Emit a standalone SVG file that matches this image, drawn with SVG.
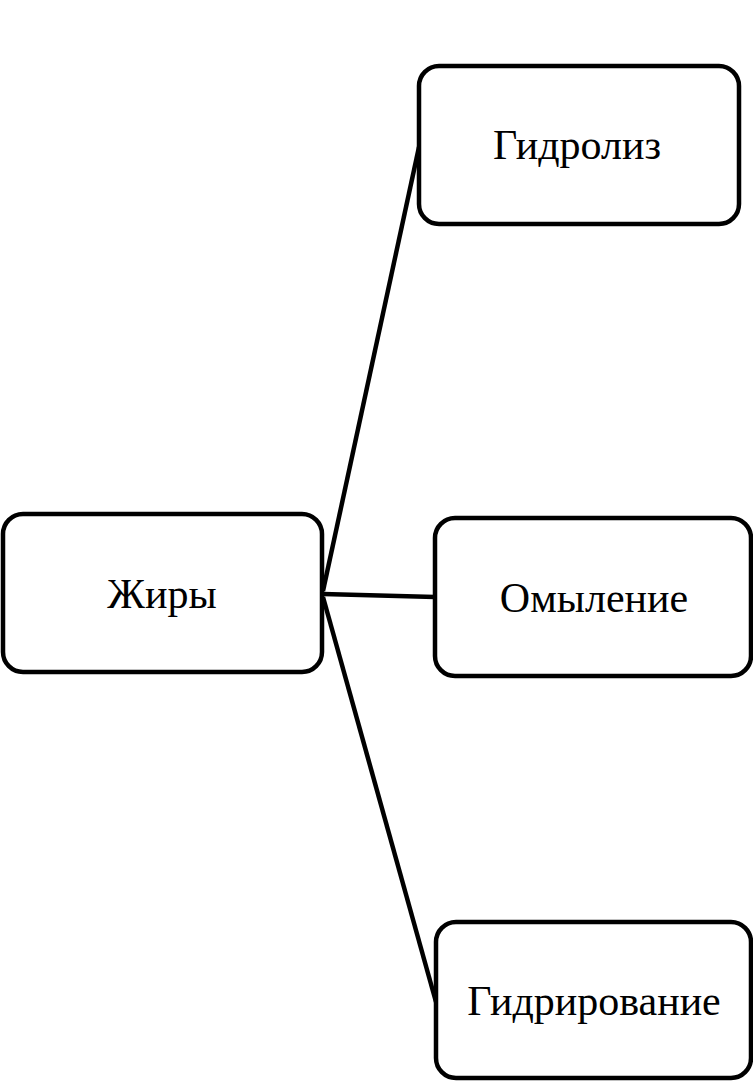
<svg xmlns="http://www.w3.org/2000/svg" width="753" height="1081" viewBox="0 0 753 1081">
<style>
.box{fill:#fff;stroke:#000;stroke-width:4.5}
.lbl{font-family:"Liberation Serif","Times New Roman",serif;font-size:42px;fill:#000;text-anchor:middle}
.con{stroke:#000;stroke-width:4.5;fill:none}
</style>
<rect width="753" height="1081" fill="#fff"/>
<g id="connectors">
<line class="con" x1="323" y1="591" x2="419" y2="147"/>
<line class="con" x1="323" y1="594" x2="435" y2="597"/>
<line class="con" x1="323" y1="597" x2="436" y2="1002"/>
</g>
<g id="node-zhiry">
<rect class="box" x="3" y="514" width="319" height="158" rx="20"/>
<text class="lbl" x="162" y="608">Жиры</text>
</g>
<g id="node-gidroliz">
<rect class="box" x="419" y="66" width="320" height="158" rx="20"/>
<text class="lbl" x="577" y="159">Гидролиз</text>
</g>
<g id="node-omylenie">
<rect class="box" x="435" y="518" width="316" height="158" rx="20"/>
<text class="lbl" x="594" y="612">Омыление</text>
</g>
<g id="node-gidrirovanie">
<rect class="box" x="436" y="922" width="315" height="156" rx="20"/>
<text class="lbl" x="594" y="1015">Гидрирование</text>
</g>
</svg>
